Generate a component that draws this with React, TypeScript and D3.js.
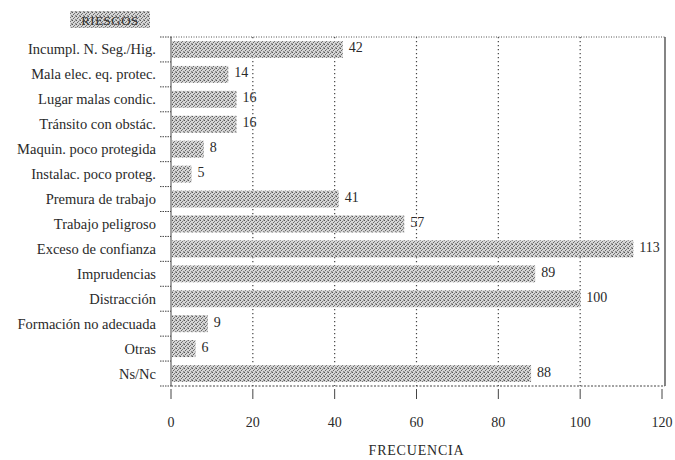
import React from "react";
import * as d3 from "d3";

const categories = [
  "Incumpl. N. Seg./Hig.",
  "Mala elec. eq. protec.",
  "Lugar malas condic.",
  "Tránsito con obstác.",
  "Maquin. poco protegida",
  "Instalac. poco proteg.",
  "Premura de trabajo",
  "Trabajo peligroso",
  "Exceso de confianza",
  "Imprudencias",
  "Distracción",
  "Formación no adecuada",
  "Otras",
  "Ns/Nc",
];
const values = [42, 14, 16, 16, 8, 5, 41, 57, 113, 89, 100, 9, 6, 88];
const xTicks = [0, 20, 40, 60, 80, 100, 120];
const title = "RIESGOS";
const xLabel = "FRECUENCIA";

const W = 675;
const H = 460;
const left = 171;
const right = 662;
const frameRight = 665;
const top = 37;
const bottom = 386;
const font = "Liberation Serif, serif";
const ink = "#2a2a2a";

export default function App() {
  const x = d3.scaleLinear().domain([0, 120]).range([left, right]);
  const y = d3.scaleBand<string>().domain(categories).range([top, bottom]).paddingInner(0.32).paddingOuter(0.16);
  const boundaries = d3.range(categories.length + 1).map((i) => top + i * ((bottom - top) / categories.length));

  return (
    <svg width={W} height={H} style={{ position: "absolute", left: 0, top: 0, background: "#fff" }}>
      <defs>
        <pattern id="stip" width="4" height="4" patternUnits="userSpaceOnUse">
          <rect width="4" height="4" fill="#d6d6d6" />
          <rect x="0" y="0" width="1" height="1" fill="#555" />
          <rect x="2" y="1" width="1" height="1" fill="#777" />
          <rect x="1" y="2" width="1" height="1" fill="#666" />
          <rect x="3" y="3" width="1" height="1" fill="#888" />
          <rect x="3" y="0" width="1" height="1" fill="#a0a0a0" />
          <rect x="0" y="3" width="1" height="1" fill="#b0b0b0" />
        </pattern>
      </defs>

      {/* title box */}
      <rect x={70} y={11} width={80} height={17} fill="url(#stip)" />
      <text x={110} y={24.5} textAnchor="middle" fontFamily={font} fontSize={13} fill="#333" letterSpacing={0.5}>
        {title}
      </text>

      {/* gridlines */}
      {xTicks.filter((t) => t > 0 && t < 120).map((t) => (
        <line key={"g" + t} x1={x(t)} x2={x(t)} y1={top} y2={bottom} stroke="#444" strokeWidth={1.2} strokeDasharray="1.2,2.8" />
      ))}

      {/* frame */}
      <line x1={left} x2={frameRight} y1={top} y2={top} stroke="#555" strokeWidth={1} strokeDasharray="1,1.5" />
      <line x1={left} x2={frameRight} y1={bottom} y2={bottom} stroke="#444" strokeWidth={1} strokeDasharray="2,1.5" />
      <line x1={left} x2={left} y1={top} y2={bottom} stroke="#444" strokeWidth={1} />
      <line x1={frameRight} x2={frameRight} y1={top} y2={bottom} stroke="#333" strokeWidth={1.2} />

      {/* left ticks */}
      {boundaries.map((b, i) => (
        <line key={"lt" + i} x1={160} x2={left} y1={b} y2={b} stroke="#444" strokeWidth={1} strokeDasharray="1.5,1" />
      ))}

      {/* bottom ticks and labels */}
      {xTicks.map((t) => (
        <g key={"xt" + t}>
          <line x1={x(t)} x2={x(t)} y1={bottom + 3} y2={bottom + 13} stroke="#444" strokeWidth={1} />
          <text x={x(t)} y={427} textAnchor="middle" fontFamily={font} fontSize={14} fill={ink}>
            {t}
          </text>
        </g>
      ))}

      {/* bars */}
      {categories.map((c, i) => (
        <g key={c}>
          <rect x={x(0) + 1} y={y(c)} width={x(values[i]) - x(0) - 1} height={y.bandwidth()} fill="url(#stip)" />
          <text x={x(values[i]) + 6} y={(y(c) as number) + y.bandwidth() / 2 + 3} fontFamily={font} fontSize={14} fill={ink}>
            {values[i]}
          </text>
          <text x={156} y={(y(c) as number) + y.bandwidth() / 2 + 5} textAnchor="end" fontFamily={font} fontSize={14.5} fill={ink}>
            {c}
          </text>
        </g>
      ))}

      <text x={(left + right) / 2} y={455} textAnchor="middle" fontFamily={font} fontSize={14} fill={ink} letterSpacing={0.8}>
        {xLabel}
      </text>
    </svg>
  );
}
